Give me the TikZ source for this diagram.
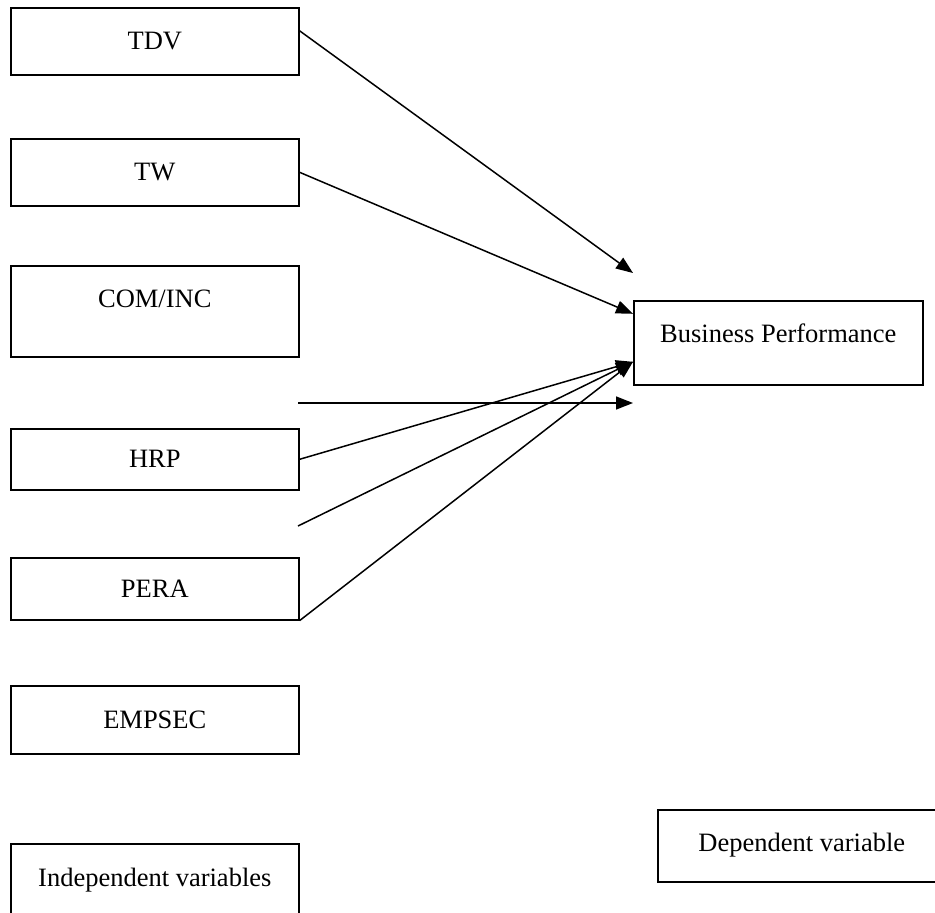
\documentclass[tikz,border=0pt]{standalone}
\usepackage{fontspec}
\setmainfont{Liberation Serif}
\usetikzlibrary{arrows.meta}

\begin{document}
\begin{tikzpicture}[x=1pt,y=-1pt,
        var/.style={draw,line width=1.6pt,minimum width=288pt,inner sep=0pt,anchor=north west,font=\fontsize{26.5}{30}\selectfont},
        link/.style={line width=1.5pt,-{Triangle[length=17pt,width=13pt]}}]
        \useasboundingbox (0,0) rectangle (935,913);

        \node[var,minimum height=67pt] (tdv) at (10,7) {TDV};
        \node[var,minimum height=67pt] (tw) at (10,138) {TW};
        \node[var,text height=42pt,text depth=49pt] (cominc) at (10,265) {COM/INC};
        \node[var,minimum height=61pt] (hrp) at (10,428) {HRP};
        \node[var,minimum height=62pt] (pera) at (10,557) {PERA};
        \node[var,minimum height=68pt] (empsec) at (10,685) {EMPSEC};
        \node[var,text height=43pt,text depth=44pt] (indep) at (10,843) {Independent variables};

        \node[var,minimum width=289pt,text height=42pt,text depth=42pt] (bp) at (633,300) {Business Performance};
        \node[var,text height=42pt,text depth=30pt] (dep) at (657,809) {Dependent variable};

        \coordinate (tdvend) at (633,273);
        \coordinate (hstart) at (298,403);
        \coordinate (hend) at (633,403);
        \coordinate (fstart) at (298,526);
        \coordinate (bpin) at ([yshift=-19pt]bp.west);

        \draw[link] ([yshift=10.5pt]tdv.east) -- (tdvend);
        \draw[link] (tw.east) -- ([yshift=29pt]bp.west);
        \draw[link] (hstart) -- (hend);
        \draw[link] (hrp.east) -- (bpin);
        \draw[link] (fstart) -- (bpin);
        \draw[link] (pera.south east) -- (bpin);
\end{tikzpicture}
\end{document}
